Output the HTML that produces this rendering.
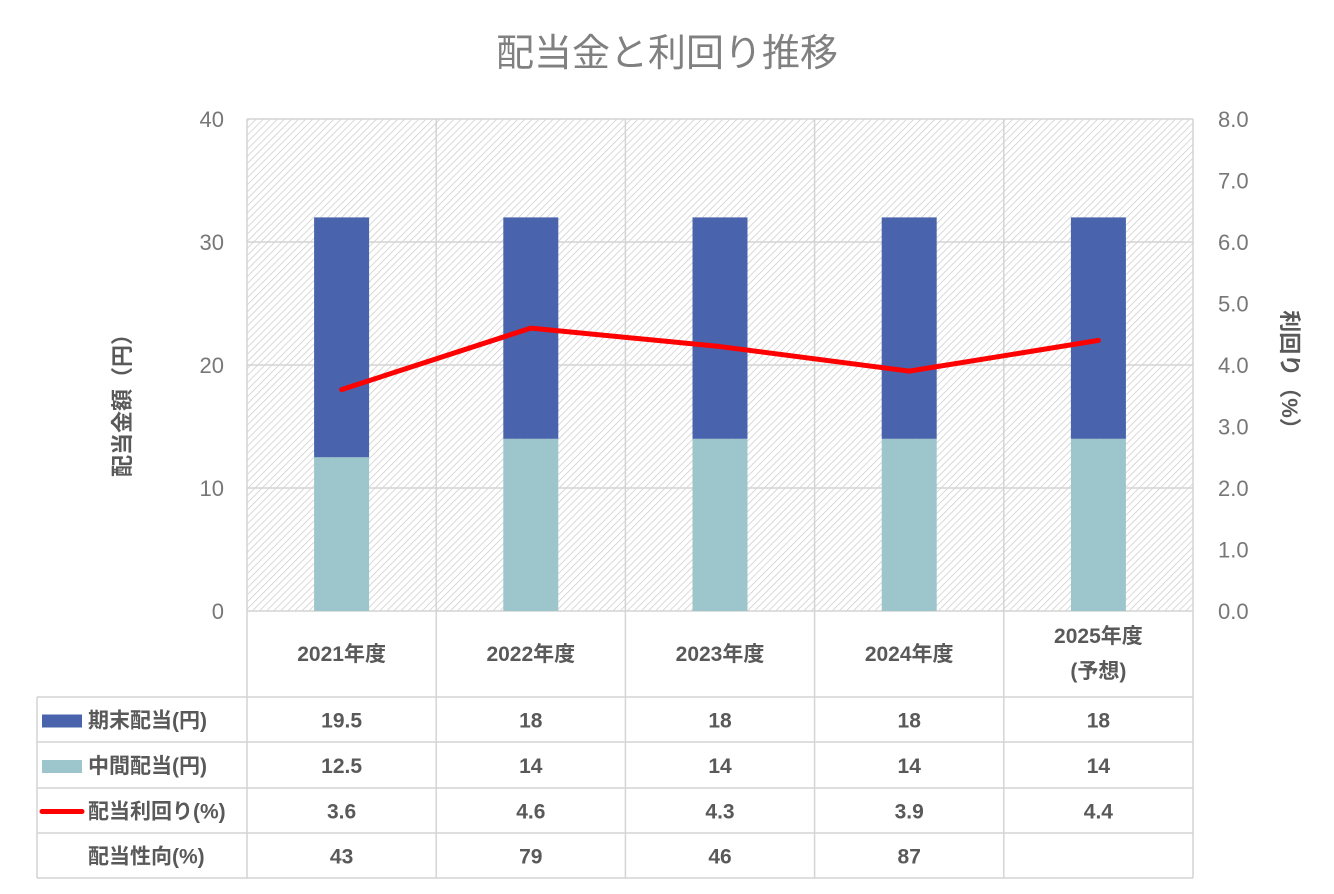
<!DOCTYPE html>
<html><head><meta charset="utf-8"><style>
body{margin:0;background:#fff}
svg text{font-family:"Liberation Sans","Noto Sans CJK JP",sans-serif}
</style></head><body>
<svg id="chart" width="1334" height="889" viewBox="0 0 1334 889" xmlns="http://www.w3.org/2000/svg">
<defs>
<pattern id="hatch" width="5" height="5" patternUnits="userSpaceOnUse" patternTransform="rotate(45)">
<rect width="5" height="5" fill="#fff"/>
<line x1="0" y1="0" x2="0" y2="5" stroke="#cfcfcf" stroke-width="1.6"/>
</pattern>
</defs>
<text x="667" y="66" font-size="38" fill="#808080" text-anchor="middle">配当金と利回り推移</text>
<rect x="247" y="119" width="946" height="492" fill="url(#hatch)"/>
<g id="grid"></g>
<g id="bars"></g>
<g id="line"></g>
<g id="axes"></g>
<g id="table"></g>
<text transform="translate(130,400) rotate(-90)" font-size="22" font-weight="bold" fill="#595959" text-anchor="middle">配当金額（円）</text>
<text transform="translate(1282,375) rotate(90)" font-size="22" font-weight="bold" fill="#595959" text-anchor="middle">利回り（%）</text>
</svg>
<script>
const categories=["2021年度","2022年度","2023年度","2024年度","2025年度"];
const yearEnd=[19.5,18,18,18,18];
const interim=[12.5,14,14,14,14];
const yieldPct=[3.6,4.6,4.3,3.9,4.4];
const payout=["43","79","46","87",""];
const leftTicks=[0,10,20,30,40];
const rightTicks=["0.0","1.0","2.0","3.0","4.0","5.0","6.0","7.0","8.0"];
const NS="http://www.w3.org/2000/svg";
const X0=247,X1=1193,Y0=611,Y1=119;
const cw=(X1-X0)/categories.length;
const yL=v=>Y0-(v/40)*(Y0-Y1);
const yR=v=>Y0-(v/8)*(Y0-Y1);
const xc=i=>X0+cw*(i+0.5);
function mk(tag,attrs,parent,text){const e=document.createElementNS(NS,tag);for(const k in attrs)e.setAttribute(k,attrs[k]);if(text!==undefined)e.textContent=text;document.getElementById(parent).appendChild(e);return e;}
const GC="#d4d4d4";
leftTicks.forEach(t=>{
 const g=mk('line',{x1:X0,x2:X1,y1:yL(t),y2:yL(t),stroke:GC,'stroke-width':1.5},'grid');
 
 
 const l=mk('text',{x:224,y:yL(t)+8,'font-size':22,fill:'#777','text-anchor':'end'},'axes',String(t));
 
 
});
rightTicks.forEach((t,i)=>{
 const l=mk('text',{x:1218,y:yR(+t)+8,'font-size':22,fill:'#777'},'axes',t);
 
 
});
for(let i=0;i<=categories.length;i++){
 const v=mk('line',{x1:X0+cw*i,x2:X0+cw*i,y1:Y1,y2:878,stroke:GC,'stroke-width':1.5},'grid');
 
 
}
const bw=55;
categories.forEach((c,i)=>{
 const b1=mk('rect',{x:xc(i)-bw/2,y:yL(interim[i]),width:bw,height:Y0-yL(interim[i]),fill:'#9dc5cc'},'bars');
 
 
 const top=interim[i]+yearEnd[i];
 const b2=mk('rect',{x:xc(i)-bw/2,y:yL(top),width:bw,height:yL(interim[i])-yL(top),fill:'#4964ad'},'bars');
 
 
});
const pl=mk('polyline',{points:yieldPct.map((v,i)=>xc(i)+','+yR(v)).join(' '),fill:'none',stroke:'#f00','stroke-width':5,'stroke-linejoin':'round','stroke-linecap':'round'},'line');


// table
const rows=[697,742,788,833,878];
rows.forEach(y=>{const l=mk('line',{x1:37,x2:X1,y1:y,y2:y,stroke:GC,'stroke-width':1.5},'table');
 
 });
const lv=mk('line',{x1:37,x2:37,y1:697,y2:878,stroke:GC,'stroke-width':1.5},'table');


const T='#595959';
categories.forEach((c,i)=>{
 if(i===4){
  const a=mk('text',{x:xc(i),y:643,'font-size':21,'font-weight':'bold',fill:T,'text-anchor':'middle'},'table',c);
  
  
  const b=mk('text',{x:xc(i),y:678,'font-size':21,'font-weight':'bold',fill:T,'text-anchor':'middle'},'table','(予想)');
  
  
 }else{
  const a=mk('text',{x:xc(i),y:661,'font-size':21,'font-weight':'bold',fill:T,'text-anchor':'middle'},'table',c);
  
  
 }
 const vals=[String(yearEnd[i]),String(interim[i]),String(yieldPct[i]),payout[i]];
 vals.forEach((v,r)=>{
  const t=mk('text',{x:xc(i),y:(rows[r]+rows[r+1])/2+8,'font-size':21,'font-weight':'bold',fill:T,'text-anchor':'middle'},'table',v);
  
  
 });
});
const labels=["期末配当(円)","中間配当(円)","配当利回り(%)","配当性向(%)"];
labels.forEach((s,r)=>{
 const cy=(rows[r]+rows[r+1])/2;
 if(r===0||r===1){
  const k=mk('rect',{x:42,y:cy-5,width:40,height:13,fill:r===0?'#4964ad':'#9dc5cc'},'table');
  
  
 }else if(r===2){
  const k=mk('line',{x1:42,x2:82,y1:cy+1,y2:cy+1,stroke:'#f00','stroke-width':5,'stroke-linecap':'round'},'table');
  
  
 }
 const t=mk('text',{x:88,y:cy+8,'font-size':21,'font-weight':'bold',fill:T},'table',s);
 
 
});
</script>
</body></html>
